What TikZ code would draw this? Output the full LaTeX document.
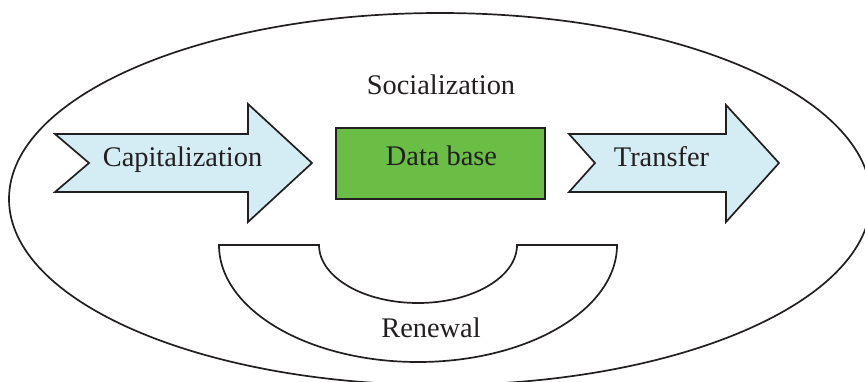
\documentclass[tikz,border=0pt]{standalone}
\usepackage{fontspec}
\setmainfont{Liberation Serif}
\definecolor{arrowfill}{HTML}{D4ECF3}
\definecolor{dbgreen}{HTML}{6ABD45}
\definecolor{ink}{HTML}{231F20}
\begin{document}
\begin{tikzpicture}[x=0.5pt,y=-0.5pt,
  outline/.style={draw=ink, line width=0.85pt, line join=miter},
  flowarrow/.style={outline, fill=arrowfill},
  dbbox/.style={outline, fill=dbgreen, minimum width=104.5pt, minimum height=35.5pt, inner sep=0pt},
  label/.style={font=\fontsize{14.2}{16}\selectfont, text=ink, inner sep=0pt, anchor=base}]
\useasboundingbox (0,0) rectangle (865,381);
\clip (0,0) rectangle (865,381);

% outer ellipse
\draw[outline] (440,199) ellipse [x radius=215.5pt, y radius=93pt];

% renewal half ring
\draw[outline] (219,245) -- (319,245)
  arc[start angle=180, end angle=360, x radius=49.5pt, y radius=29pt]
  -- (617,245)
  arc[start angle=0, end angle=-180, x radius=99.5pt, y radius=58.5pt]
  -- cycle;

% capitalization arrow
\draw[flowarrow] (55,134) -- (248,134) -- (248,104) -- (312,163) -- (248,222)
  -- (248,192) -- (55,192) -- (89,163) -- cycle;

% transfer arrow
\draw[flowarrow] (569,134) -- (726,134) -- (726,105) -- (779,163) -- (726,222)
  -- (726,192) -- (569,192) -- (595,163) -- cycle;

% data base box
\node[dbbox] (db) at (440.5,163.5) {};

% labels
\node[label] (soc) at (441,94) {Socialization};
\node[label] (cap) at (182.5,166) {Capitalization};
\node[label] (dbl) at (441.5,165) {Data base};
\node[label] (tra) at (661.5,166.5) {Transfer};
\node[label] (ren) at (431,337) {Renewal};
\end{tikzpicture}
\end{document}
